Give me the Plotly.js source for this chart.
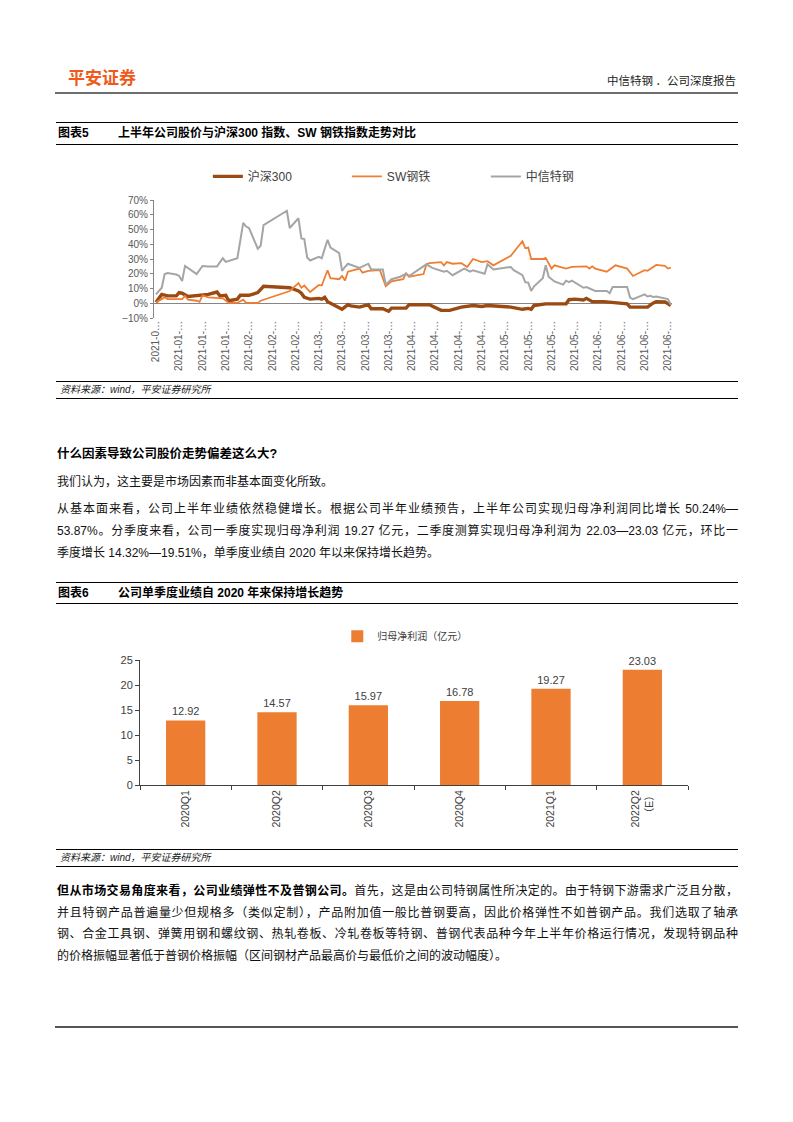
<!DOCTYPE html>
<html><head><meta charset="utf-8">
<script src="https://cdn.plot.ly/plotly-3.0.1.min.js"></script>
<style>
body{margin:0;background:#fff;}
#page{position:relative;width:793px;height:1122px;overflow:hidden;font-family:"Liberation Sans","Noto Sans CJK SC",sans-serif;color:#000;background:#fff;}
.abs{position:absolute;}
.bar{position:absolute;left:56px;width:682px;border-top:1.3px solid #000;border-bottom:1.3px solid #000;box-sizing:border-box;}
.ttl{font-size:12px;font-weight:bold;font-family:"Liberation Sans","Noto Sans CJK SC",sans-serif;}
.src{font-size:10px;font-style:italic;color:#222;}
.para{position:absolute;left:57px;width:681px;font-size:12px;color:#111;}
.jl{display:block;text-align:justify;text-align-last:justify;white-space:nowrap;}
.jn{display:block;white-space:nowrap;}
</style></head><body>
<div id="page">
<div id="chart1" class="abs" style="left:0;top:150px;width:793px;height:230px"></div>
<div id="chart2" class="abs" style="left:0;top:610px;width:793px;height:240px"></div>

<div class="abs" style="left:68px;top:67px;font-size:17px;line-height:20px;font-weight:bold;color:#EE5A1A;font-family:'Noto Sans CJK SC';">平安证券</div>
<div class="abs" style="right:57px;top:72px;font-size:11.5px;line-height:16px;color:#222;font-family:'Noto Sans CJK SC';">中信特钢 ．公司深度报告</div>
<div class="abs" style="left:55px;top:92px;width:683px;height:2px;background:#6e6e6e;"></div>

<div class="bar" style="top:122px;height:23px;">
  <span class="abs ttl" style="left:2px;top:2px;line-height:17px;">图表5</span>
  <span class="abs ttl" style="left:62px;top:2px;line-height:17px;">上半年公司股价与沪深300 指数、SW 钢铁指数走势对比</span>
</div>

<div class="bar" style="top:381px;height:18px;">
  <span class="abs src" style="left:4px;top:1px;line-height:14px;">资料来源：wind，平安证券研究所</span>
</div>

<div class="para" style="top:443px;line-height:22px;font-weight:bold;font-size:12.5px;color:#000;">什么因素导致公司股价走势偏差这么大?</div>
<div class="para" style="top:471px;line-height:22px;">我们认为，这主要是市场因素而非基本面变化所致。</div>
<div class="para" style="top:498px;line-height:22px;">
<span class="jl">从基本面来看，公司上半年业绩依然稳健增长。根据公司半年业绩预告，上半年公司实现归母净利润同比增长 50.24%—</span>
<span class="jl">53.87%。分季度来看，公司一季度实现归母净利润 19.27 亿元，二季度测算实现归母净利润为 22.03—23.03 亿元，环比一</span>
<span class="jn">季度增长 14.32%—19.51%，单季度业绩自 2020 年以来保持增长趋势。</span>
</div>

<div class="bar" style="top:582px;height:22px;">
  <span class="abs ttl" style="left:2px;top:2px;line-height:17px;">图表6</span>
  <span class="abs ttl" style="left:62px;top:2px;line-height:17px;">公司单季度业绩自 2020 年来保持增长趋势</span>
</div>

<div class="bar" style="top:849px;height:18px;">
  <span class="abs src" style="left:4px;top:1px;line-height:14px;">资料来源：wind，平安证券研究所</span>
</div>

<div class="para" style="top:881px;line-height:21.7px;">
<span class="jl"><b style="color:#000">但从市场交易角度来看，公司业绩弹性不及普钢公司。</b>首先，这是由公司特钢属性所决定的。由于特钢下游需求广泛且分散，</span>
<span class="jl">并且特钢产品普遍量少但规格多（类似定制），产品附加值一般比普钢要高，因此价格弹性不如普钢产品。我们选取了轴承</span>
<span class="jl">钢、合金工具钢、弹簧用钢和螺纹钢、热轧卷板、冷轧卷板等特钢、普钢代表品种今年上半年价格运行情况，发现特钢品种</span>
<span class="jn">的价格振幅显著低于普钢价格振幅（区间钢材产品最高价与最低价之间的波动幅度）。</span>
</div>

<div class="abs" style="left:55px;top:1026px;width:683px;height:2px;background:#555;"></div>
</div>

<script>
// ---------- Chart 1 data (cumulative change, %) ----------
const hs300Dates = ['2021-01-04','2021-01-06','2021-01-08','2021-01-11','2021-01-12','2021-01-13','2021-01-15','2021-01-18','2021-01-20','2021-01-22','2021-01-25','2021-01-26','2021-01-28','2021-01-29','2021-02-01','2021-02-02','2021-02-05','2021-02-08','2021-02-10','2021-02-19','2021-02-22','2021-02-23','2021-02-24','2021-02-26','2021-03-01','2021-03-02','2021-03-03','2021-03-04','2021-03-09','2021-03-11','2021-03-12','2021-03-15','2021-03-18','2021-03-19','2021-03-23','2021-03-25','2021-03-26','2021-03-31','2021-04-01','2021-04-08','2021-04-12','2021-04-15','2021-04-19','2021-04-22','2021-04-23','2021-04-26','2021-04-28','2021-05-06','2021-05-10','2021-05-12','2021-05-13','2021-05-14','2021-05-18','2021-05-25','2021-05-26','2021-05-28','2021-05-31','2021-06-01','2021-06-03','2021-06-07','2021-06-11','2021-06-15','2021-06-16','2021-06-22','2021-06-24','2021-06-25','2021-06-28','2021-06-30'];
const hs300Vals = [0.6,6,5,5,7.2,6.8,4.6,5.4,6,6,7.6,5,5.4,1.7,2.8,5.4,5.4,7.2,11.5,10.5,8.3,6.8,4,2.8,3.3,2.8,4,1,-4,-1,-1.8,-2.6,-1,-3.7,-3.7,-5.4,-3.3,-3.3,-1,-1,-4.8,-4.8,-2.6,-2.2,-1.5,-2.2,-1.5,-2.6,-4.1,-3.5,-4.1,-1.5,-0.4,-0.4,2.4,2.8,2.2,3.3,1.1,1.1,0.2,-0.4,-2.6,-2.6,0.2,1.1,0.9,-1.5];

const swDates = ['2021-01-04','2021-01-05','2021-01-07','2021-01-08','2021-01-13','2021-01-14','2021-01-15','2021-01-18','2021-01-19','2021-01-20','2021-01-22','2021-01-27','2021-01-29','2021-02-01','2021-02-03','2021-02-04','2021-02-08','2021-02-09','2021-02-18','2021-02-19','2021-02-22','2021-02-23','2021-02-24','2021-02-26','2021-03-01','2021-03-02','2021-03-04','2021-03-05','2021-03-08','2021-03-09','2021-03-10','2021-03-11','2021-03-15','2021-03-16','2021-03-18','2021-03-22','2021-03-24','2021-03-26','2021-03-30','2021-03-31','2021-04-01','2021-04-06','2021-04-07','2021-04-08','2021-04-12','2021-04-13','2021-04-14','2021-04-16','2021-04-19','2021-04-21','2021-04-23','2021-04-26','2021-04-28','2021-04-30','2021-05-06','2021-05-10','2021-05-11','2021-05-12','2021-05-13','2021-05-17','2021-05-18','2021-05-20','2021-05-21','2021-05-25','2021-05-27','2021-06-01','2021-06-02','2021-06-03','2021-06-04','2021-06-08','2021-06-11','2021-06-15','2021-06-17','2021-06-21','2021-06-22','2021-06-25','2021-06-28','2021-06-29','2021-06-30'];
const swVals = [0.6,1.7,4,2.8,2.8,5,2.4,1.7,1.0,5.4,4,3.3,0.2,0.2,2.4,0.2,0.2,1.7,7.2,8.3,13.7,10.5,12,7.6,12.4,12,22.4,17,16.3,18.5,15.5,21.4,23.5,20.7,22,22.4,11.5,14.8,16.3,20.3,18,19.8,26.4,27.2,27.9,25.7,27.9,26.8,27.2,24.6,30,27.9,28.5,25.7,32.2,42,37.3,37.7,30,30,30.8,23.5,25.7,23.5,24.6,25,23.5,25,23.5,21.4,25.7,23.5,18.5,22.4,22,26,25.3,23.5,24.2];

const citicDates = ['2021-01-04','2021-01-06','2021-01-07','2021-01-08','2021-01-11','2021-01-12','2021-01-13','2021-01-14','2021-01-18','2021-01-20','2021-01-22','2021-01-25','2021-01-27','2021-01-28','2021-02-01','2021-02-03','2021-02-04','2021-02-05','2021-02-08','2021-02-09','2021-02-10','2021-02-18','2021-02-19','2021-02-22','2021-02-23','2021-02-24','2021-02-25','2021-02-26','2021-03-01','2021-03-02','2021-03-04','2021-03-05','2021-03-08','2021-03-09','2021-03-10','2021-03-11','2021-03-15','2021-03-18','2021-03-19','2021-03-23','2021-03-24','2021-03-26','2021-03-29','2021-03-31','2021-04-01','2021-04-07','2021-04-09','2021-04-13','2021-04-14','2021-04-16','2021-04-20','2021-04-22','2021-04-23','2021-04-27','2021-04-28','2021-04-30','2021-05-06','2021-05-07','2021-05-10','2021-05-11','2021-05-12','2021-05-13','2021-05-14','2021-05-17','2021-05-18','2021-05-19','2021-05-21','2021-05-24','2021-05-25','2021-05-26','2021-05-27','2021-05-31','2021-06-01','2021-06-03','2021-06-04','2021-06-08','2021-06-09','2021-06-10','2021-06-15','2021-06-16','2021-06-17','2021-06-21','2021-06-22','2021-06-23','2021-06-24','2021-06-25','2021-06-28','2021-06-29','2021-06-30'];
const citicVals = [6,10.5,19.8,20.5,19.5,18.5,15,25.3,19.8,25.3,25,25,30.5,28,30.5,54.5,52,51,37,39,53,62.7,51,57.6,44,43.5,31,29,31.5,30.5,43,37.7,34,22,24.6,26.8,24,26.8,22.9,22.9,12.6,16.3,18,20,18.5,26.4,24,21.4,22,19,23.5,21.4,22.4,20,26.4,22.9,24.6,22.4,19,14.2,14,8.3,11.5,17,25.7,18,14.8,12.6,15.3,14.3,15.3,10.5,11,9.4,8.3,8.3,6.8,11,11,3.9,2.8,6,4.6,5,4.2,4.6,3.5,2.8,-1];

const seriesNames1 = ['沪深300','SW钢铁','中信特钢'];
const tickDates = ['2021-01-04','2021-01-12','2021-01-20','2021-01-28','2021-02-05','2021-02-13','2021-02-21','2021-03-01','2021-03-09','2021-03-17','2021-03-25','2021-04-02','2021-04-10','2021-04-18','2021-04-26','2021-05-04','2021-05-12','2021-05-20','2021-05-28','2021-06-05','2021-06-13','2021-06-21','2021-06-29'];
const tickLabels = ['2021-0…','2021-01-…','2021-01-…','2021-01-…','2021-02-…','2021-02-…','2021-02-…','2021-03-…','2021-03-…','2021-03-…','2021-03-…','2021-04-…','2021-04-…','2021-04-…','2021-04-…','2021-05-…','2021-05-…','2021-05-…','2021-05-…','2021-06-…','2021-06-…','2021-06-…','2021-06-…'];

// ---------- Chart 2 data ----------
const quarters = ['2020Q1','2020Q2','2020Q3','2020Q4','2021Q1','2022Q2<br>（E）'];
const netProfit = [12.92,14.57,15.97,16.78,19.27,23.03];
const barName = '归母净利润（亿元）';

const cjk = '"Liberation Sans","Noto Sans CJK SC",sans-serif';

const traces1 = [
  {x:hs300Dates, y:hs300Vals, name:seriesNames1[0], type:'scatter', mode:'lines', line:{color:'#9A4A12', width:3.4}},
  {x:swDates, y:swVals, name:seriesNames1[1], type:'scatter', mode:'lines', line:{color:'#EF7E32', width:1.8}},
  {x:citicDates, y:citicVals, name:seriesNames1[2], type:'scatter', mode:'lines', line:{color:'#A5A5A5', width:2}}
];
const layout1 = {
  width:793, height:230,
  margin:{l:154, r:121, t:44, b:62},
  paper_bgcolor:'rgba(0,0,0,0)', plot_bgcolor:'rgba(0,0,0,0)',
  font:{family:cjk, color:'#595959'},
  showlegend:true,
  legend:{orientation:'h', x:0.104, xanchor:'left', y:1.2, yanchor:'middle',
          font:{size:12, color:'#404040', family:cjk}, entrywidth:94, entrywidthmode:'pixels',
          itemwidth:30, bgcolor:'rgba(0,0,0,0)', traceorder:'normal'},
  xaxis:{type:'date', range:['2021-01-03 08:00','2021-06-30 10:00'], tickmode:'array',
         tickvals:tickDates, ticktext:tickLabels, tickangle:-90,
         tickfont:{size:10, color:'#595959', family:cjk},
         showline:false, showgrid:false, zeroline:false, ticks:''},
  yaxis:{range:[-10,70], tickmode:'linear', tick0:0, dtick:10, ticksuffix:'%',
         showline:true, linecolor:'#868686', linewidth:1, ticks:'outside', ticklen:3, tickcolor:'#868686',
         showgrid:false, zeroline:true, zerolinecolor:'#868686', zerolinewidth:1,
         tickfont:{size:10, color:'#595959', family:cjk}}
};
Plotly.newPlot('chart1', traces1, layout1, {staticPlot:true, displayModeBar:false});

const traces2 = [{
  x:quarters, y:netProfit, name:barName, type:'bar',
  marker:{color:'#ED7D31'}, text:netProfit.map(v=>v.toFixed(2)), textposition:'outside',
  textfont:{size:11, color:'#404040', family:cjk}, cliponaxis:false
}];
const layout2 = {
  width:793, height:240,
  margin:{l:140, r:105, t:50, b:65},
  paper_bgcolor:'rgba(0,0,0,0)', plot_bgcolor:'rgba(0,0,0,0)',
  font:{family:cjk, color:'#404040'},
  bargap:0.57,
  showlegend:true,
  legend:{orientation:'h', x:0.36, xanchor:'left', y:1.19, yanchor:'middle',
          font:{size:10, color:'#404040', family:cjk}, itemwidth:30, bgcolor:'rgba(0,0,0,0)'},
  xaxis:{type:'category', tickson:'boundaries', ticks:'outside', ticklen:4, tickcolor:'#404040',
         showline:true, linecolor:'#404040', linewidth:1, tickangle:-90, showgrid:false,
         tickfont:{size:10.5, color:'#404040', family:cjk}},
  yaxis:{range:[0,25], tickmode:'linear', tick0:0, dtick:5, showline:true, linecolor:'#404040', linewidth:1,
         ticks:'outside', ticklen:4, tickcolor:'#404040', showgrid:false, zeroline:false,
         tickfont:{size:11, color:'#404040', family:cjk}}
};
Plotly.newPlot('chart2', traces2, layout2, {staticPlot:true, displayModeBar:false});
</script>
</body></html>
